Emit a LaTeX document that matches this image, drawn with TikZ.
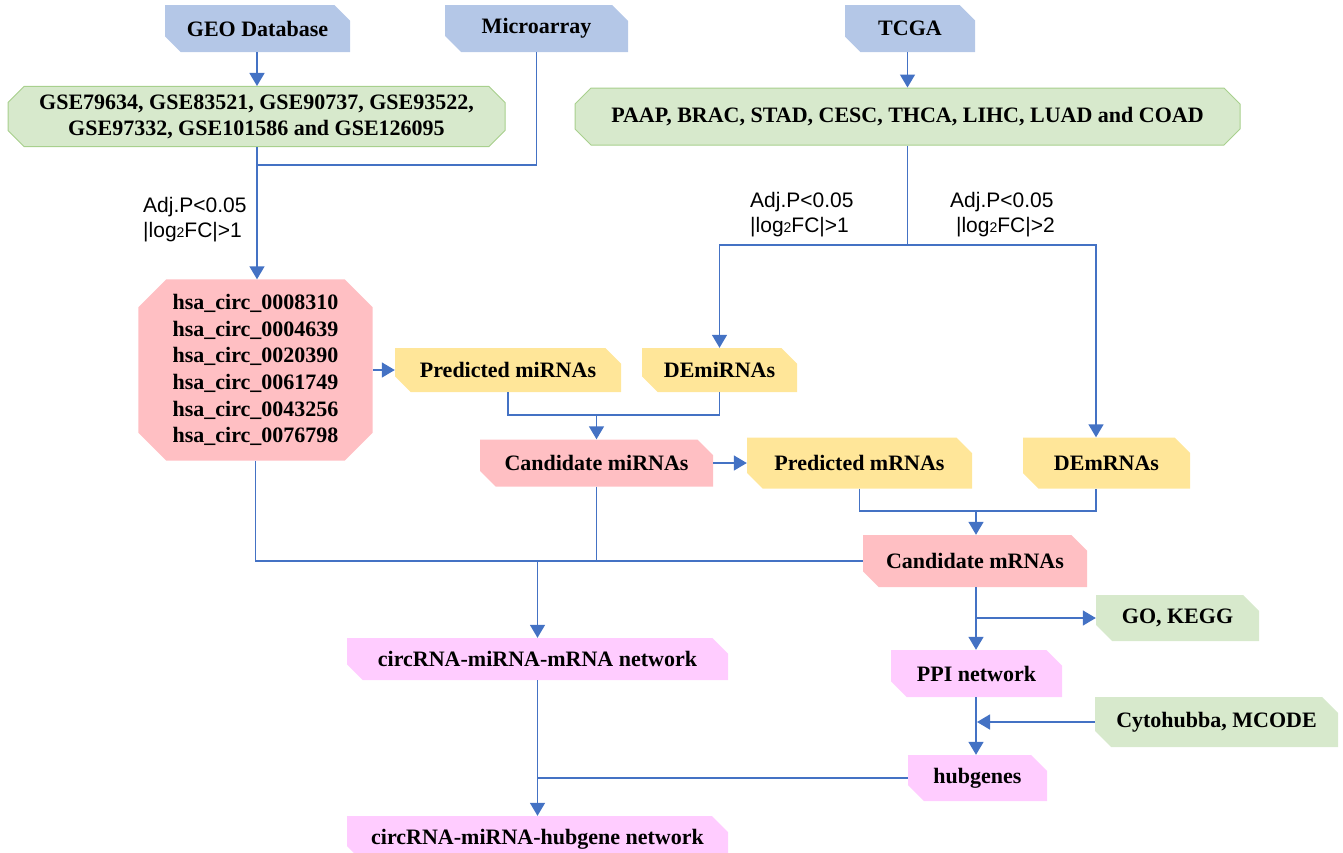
\documentclass[tikz,border=0pt]{standalone}
\usepackage{fontspec}
\setmainfont{Liberation Serif}
\newfontfamily\labfont{Liberation Sans}
\usetikzlibrary{shapes.misc,arrows.meta,calc,backgrounds}
\definecolor{hdrblue}{HTML}{B4C7E7}
\definecolor{grnfill}{HTML}{D7E9CC}
\definecolor{grnline}{HTML}{A8D08D}
\definecolor{ylw}{HTML}{FFE699}
\definecolor{pnk}{HTML}{FFBFC3}
\definecolor{mag}{HTML}{FFCCFF}
\definecolor{lineblue}{HTML}{4472C4}
\begin{document}
\begin{tikzpicture}[x=1pt,y=-1pt,
  box/.style={chamfered rectangle, chamfered rectangle corners={north east,south west},
    chamfered rectangle xsep=8pt, chamfered rectangle ysep=8pt, inner sep=0pt,
    font=\fontsize{22}{26}\selectfont\bfseries, align=center},
  hdr/.style={box, fill=hdrblue},
  grnbox/.style={box, fill=grnfill},
  grnall/.style={box, chamfered rectangle corners={north east,south west,north west,south east}, fill=grnfill, draw=grnline, line width=1pt},
  ylwbox/.style={box, fill=ylw},
  pnkbox/.style={box, fill=pnk},
  magbox/.style={box, fill=mag},
  conn/.style={draw=lineblue, line width=1.5pt},
  arr/.style={conn, -{Triangle[width=15pt,length=13pt]}},
  lab/.style={font=\labfont\fontsize{21}{25}\selectfont, align=left, inner sep=0pt}
]
\useasboundingbox (0,0) rectangle (1343,852);
\clip (0,0) rectangle (1343,852);

% top sources
\node[hdr, minimum width=185pt, minimum height=47pt] (geo) at (257.5,28.5) {GEO Database};
\node[hdr, minimum width=183pt, minimum height=47pt] (micro) at (536.5,28.5) {Microarray};
\node[hdr, minimum width=130pt, minimum height=47pt] (tcga) at (910,28.5) {TCGA};

% datasets
\node[grnall, minimum width=497pt, minimum height=57pt] (gse) at (256.5,116.5)
  {GSE79634, GSE83521, GSE90737, GSE93522,\\GSE97332, GSE101586 and GSE126095};
\node[grnall, minimum width=665pt, minimum height=57pt] (paap) at (907.5,116.5)
  {PAAP, BRAC, STAD, CESC, THCA, LIHC, LUAD and COAD};

% circRNAs (octagon drawn on background)
\node[rectangle, inner sep=0pt, minimum width=234pt, minimum height=181pt, align=center,
  font=\fontsize{22}{26.6}\selectfont\bfseries] (hsa) at (255.5,370)
  {hsa\_circ\_0008310\\hsa\_circ\_0004639\\hsa\_circ\_0020390\\hsa\_circ\_0061749\\hsa\_circ\_0043256\\hsa\_circ\_0076798};
\begin{scope}[on background layer]
\fill[pnk] ($(hsa.north west)+(28,0)$) -- ($(hsa.north east)+(-28,0)$)
  -- ($(hsa.north east)+(0,28)$) -- ($(hsa.south east)+(0,-28)$)
  -- ($(hsa.south east)+(-28,0)$) -- ($(hsa.south west)+(28,0)$)
  -- ($(hsa.south west)+(0,-28)$) -- ($(hsa.north west)+(0,28)$) -- cycle;
\end{scope}

% miRNAs
\node[ylwbox, minimum width=226pt, minimum height=44pt] (predmi) at (508,370) {Predicted miRNAs};
\node[ylwbox, minimum width=155pt, minimum height=44pt] (demi) at (719.5,370) {DEmiRNAs};
\node[pnkbox, minimum width=233pt, minimum height=47pt] (candmi) at (596.5,463) {Candidate miRNAs};

% mRNAs
\node[ylwbox, minimum width=225pt, minimum height=51pt] (predm) at (859.5,463) {Predicted mRNAs};
\node[ylwbox, minimum width=167pt, minimum height=51pt] (dem) at (1106.5,463) {DEmRNAs};
\node[pnkbox, minimum width=224pt, minimum height=52pt] (candm) at (975,561) {Candidate mRNAs};

% downstream
\node[grnbox, minimum width=163pt, minimum height=46pt] (go) at (1177.5,618) {GO, KEGG};
\node[magbox, minimum width=171pt, minimum height=47pt] (ppi) at (976.5,673.5) {PPI network};
\node[grnbox, minimum width=243pt, minimum height=50pt] (cyto) at (1216.5,722) {Cytohubba, MCODE};
\node[magbox, minimum width=139pt, minimum height=46pt] (hub) at (977.5,778) {hubgenes};
\node[magbox, minimum width=381pt, minimum height=42pt] (net1) at (537.5,659) {circRNA-miRNA-mRNA network};
\node[magbox, minimum width=381pt, minimum height=46pt] (net2) at (537.5,839) {circRNA-miRNA-hubgene network};

% labels
\node[lab, anchor=north west] (lab1) at (143,197) {Adj.P<0.05\\|log{\fontsize{14}{14}\selectfont 2}FC|>1};
\node[lab, anchor=north west] (lab2) at (750,192) {Adj.P<0.05\\|log{\fontsize{14}{14}\selectfont 2}FC|>1};
\node[lab, anchor=north west] (lab3) at (950,192) {Adj.P<0.05\\\ |log{\fontsize{14}{14}\selectfont 2}FC|>2};

% junction coordinates
\coordinate (j1) at (257,165);
\coordinate (j2) at (907.5,245);
\coordinate (j3) at (596.5,415);
\coordinate (dmx) at (1096,463);
\coordinate (j4) at (976,511);
\coordinate (j5) at (537.5,561);
\coordinate (j6) at (976,618);
\coordinate (j7) at (977,722);
\coordinate (j8) at (537.5,778);

% connectors
\draw[arr] (geo.south -| j1) -- (gse.north -| j1);
\draw[conn] (micro.south) |- (j1);
\draw[arr] (gse.south -| j1) -- (hsa.north -| j1);
\draw[arr] (tcga.south -| j2) -- (paap.north -| j2);
\draw[conn] (paap.south) -- (j2);
\draw[arr] (j2) -| (demi.north);
\draw[arr] (j2) -| (dmx |- dem.north);
\draw[arr] (hsa.east) -- (predmi.west);
\draw[conn] (predmi.south) |- (j3) -| (demi.south);
\draw[arr] (j3) -- (candmi.north);
\draw[arr] (candmi.east) -- (predm.west);
\draw[conn] (predm.south) |- (j4) -| (dmx |- dem.south);
\draw[arr] (j4) -- (candm.north -| j4);
\draw[conn] (hsa.south) |- (candm.west);
\draw[conn] (candmi.south) -- (candmi.south |- candm.west);
\draw[arr] (j5) -- (net1.north);
\draw[arr] (candm.south -| j6) -- (ppi.north -| j6);
\draw[arr] (j6) -- (go.west);
\draw[arr] (ppi.south -| j6) -- (hub.north -| j6);
\draw[arr] (cyto.west) -- (j7);
\draw[arr] (net1.south) -- (net2.north);
\draw[conn] (hub.west) -- (hub.west -| j8);
\end{tikzpicture}
\end{document}
